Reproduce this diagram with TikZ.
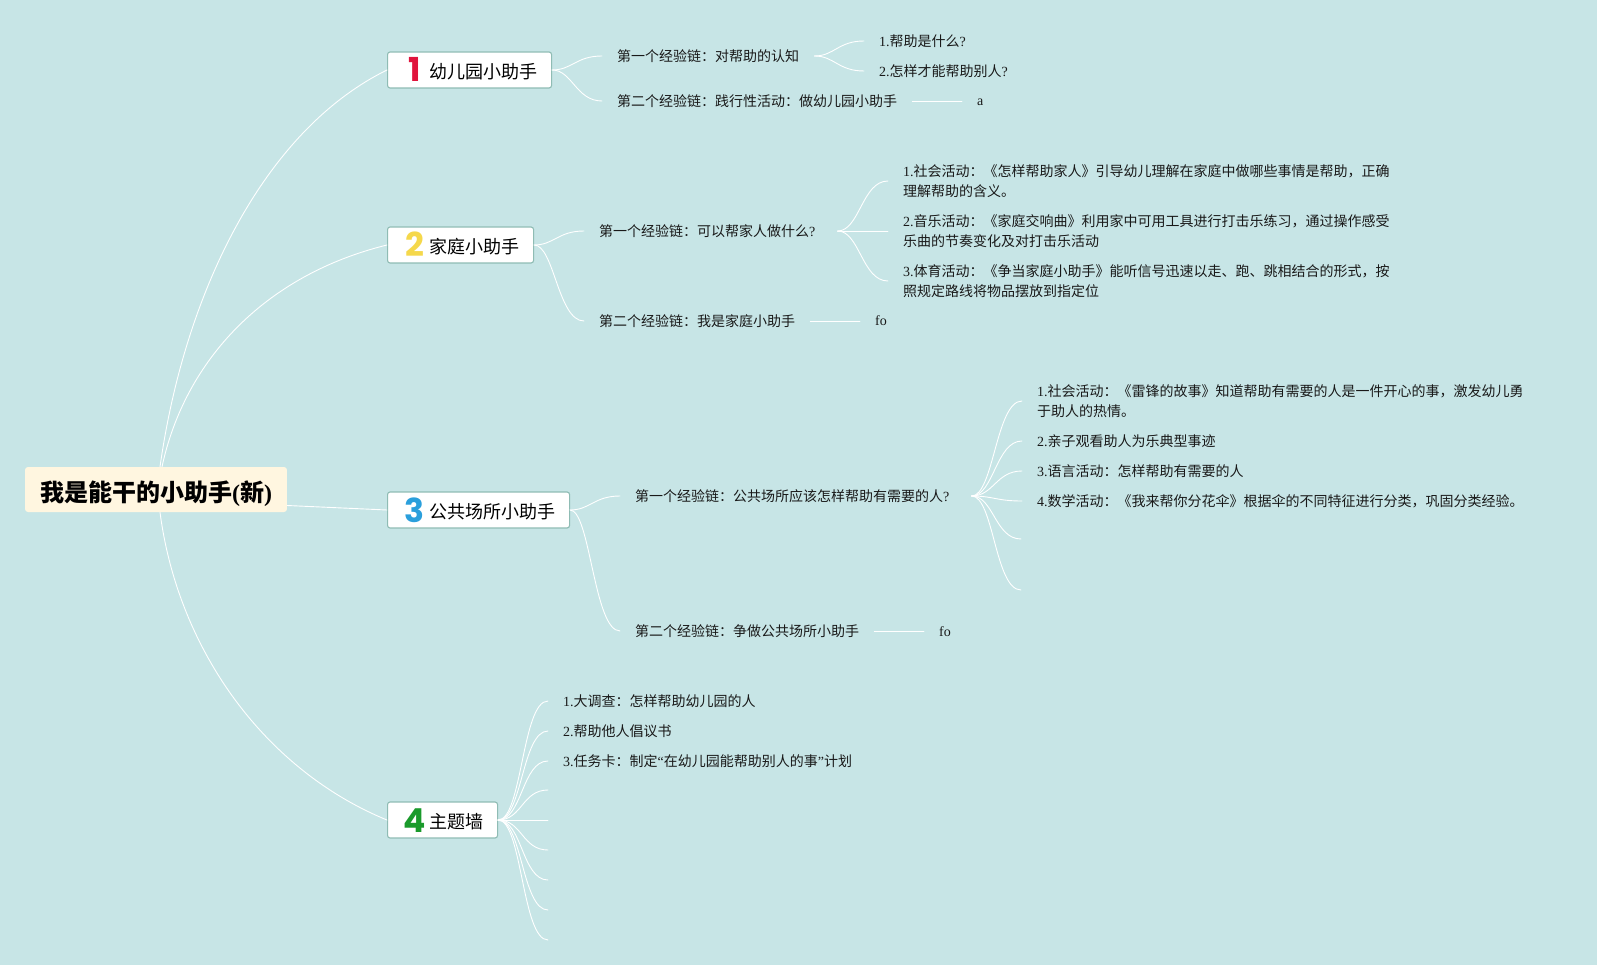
\documentclass[tikz,border=0pt]{standalone}
\usepackage{xcolor}
\usepackage{fontspec}
\setmainfont{Noto Sans CJK SC}
\newfontfamily\lat{Liberation Serif}
\newfontfamily\numfont{Poppins}
\usetikzlibrary{calc}
\definecolor{bgcol}{HTML}{C7E5E6}
\definecolor{rootcol}{HTML}{FFF6E0}
\definecolor{edgecol}{HTML}{8FBCB4}
\definecolor{numa}{HTML}{E0143C}
\definecolor{numb}{HTML}{F5D84B}
\definecolor{numc}{HTML}{2A9FDC}
\definecolor{numd}{HTML}{1A9A2B}
\newcommand{\topicnum}[2]{\makebox[26pt][c]{\raisebox{-3.7pt}[0pt][0pt]{\numfont\bfseries\fontsize{33}{33}\selectfont\textcolor{#1}{#2}}}\hspace{2pt}}
\tikzset{
	rootbox/.style={fill=rootcol,rounded corners=3pt,minimum height=45pt,inner xsep=15pt,inner ysep=0pt,text height=23pt,text depth=0pt,font=\fontsize{24}{28}\selectfont\bfseries},
	topicbox/.style={draw=edgecol,line width=1.1pt,fill=white,rounded corners=2.5pt,anchor=west,minimum height=36pt,inner xsep=14pt,inner ysep=0pt,text height=17pt,text depth=.4pt,font=\fontsize{18}{22}\selectfont},
	leaf/.style={anchor=west,inner xsep=15pt,inner ysep=0pt,align=left,text=black!90,font=\fontsize{14}{20}\selectfont},
	short/.style={leaf,text height=12pt,text depth=2pt,font=\lat\fontsize{14}{20}\selectfont},
	branch/.style={draw=white,line width=.9pt,line cap=round},
	curl/.style={to path={.. controls +(#1,0) and +(-26,0) .. (\tikztotarget)}},
	curl/.default=20
}
\begin{document}
\begin{tikzpicture}[x=1pt,y=-1pt]
	\useasboundingbox[fill=bgcol] (0,0) rectangle (1597,965);
	\node[rootbox] (root) at (156,489.5){我是能干的小助手{\lat\bfseries(}新{\lat\bfseries)}};
	\node[topicbox] (a) at (387,70){\topicnum{numa}{1}幼儿园小助手};
	\node[topicbox] (b) at (387,245){\topicnum{numb}{2}家庭小助手};
	\node[topicbox] (c) at (387,510){\topicnum{numc}{3}公共场所小助手};
	\node[topicbox] (d) at (387,820){\topicnum{numd}{4}主题墙};

	\node[leaf] (a1) at (602,56){第一个经验链：对帮助的认知};
	\node[leaf] (a2) at (602,101){第二个经验链：践行性活动：做幼儿园小助手};
	\node[leaf] (a11) at (864,41){{\lat 1.}帮助是什么{\lat ?}};
	\node[leaf] (a12) at (864,71){{\lat 2.}怎样才能帮助别人{\lat ?}};
	\node[short] (a21) at (962,101){a};

	\node[leaf] (b1) at (584,231){第一个经验链：可以帮家人做什么{\lat ?}};
	\node[leaf] (b2) at (584,321){第二个经验链：我是家庭小助手};
	\node[leaf] (b11) at (888,181){{\lat 1.}社会活动：《怎样帮助家人》引导幼儿理解在家庭中做哪些事情是帮助，正确\\理解帮助的含义。};
	\node[leaf] (b12) at (888,231){{\lat 2.}音乐活动：《家庭交响曲》利用家中可用工具进行打击乐练习，通过操作感受\\乐曲的节奏变化及对打击乐活动};
	\node[leaf] (b13) at (888,281){{\lat 3.}体育活动：《争当家庭小助手》能听信号迅速以走、跑、跳相结合的形式，按\\照规定路线将物品摆放到指定位};
	\node[short] (b21) at (860,321){fo};
	\coordinate (bfan) at ($(b1.east)+(7,0)$);

	\node[leaf] (c1) at (620,496){第一个经验链：公共场所应该怎样帮助有需要的人{\lat ?}};
	\node[leaf] (c2) at (620,631){第二个经验链：争做公共场所小助手};
	\node[leaf] (c11) at (1022,401){{\lat 1.}社会活动：《雷锋的故事》知道帮助有需要的人是一件开心的事，激发幼儿勇\\于助人的热情。};
	\node[leaf] (c12) at (1022,441){{\lat 2.}亲子观看助人为乐典型事迹};
	\node[leaf] (c13) at (1022,471){{\lat 3.}语言活动：怎样帮助有需要的人};
	\node[leaf] (c14) at (1022,501){{\lat 4.}数学活动：《我来帮你分花伞》根据伞的不同特征进行分类，巩固分类经验。};
	\coordinate (c15) at (1021,539);
	\coordinate (c16) at (1021,590);
	\node[short] (c21) at (924,631){fo};
	\coordinate (cfan) at ($(c1.east)+(7,0)$);

	\node[leaf] (d1) at (548,701){{\lat 1.}大调查：怎样帮助幼儿园的人};
	\node[leaf] (d2) at (548,731){{\lat 2.}帮助他人倡议书};
	\node[leaf] (d3) at (548,761){{\lat 3.}任务卡：制定{\lat “}在幼儿园能帮助别人的事{\lat ”}计划};
	\coordinate (d4) at (548,790);
	\coordinate (d5) at (548,820);
	\coordinate (d6) at (548,850);
	\coordinate (d7) at (548,880);
	\coordinate (d8) at (548,910);
	\coordinate (d9) at (548,940);

	\begin{scope}[branch]
		\draw ([xshift=4pt]root.north) .. controls (185,290) and (265,130) .. (a.west);
		\draw ([xshift=6pt]root.north) .. controls (185,360) and (265,275) .. (b.west);
		\draw ([yshift=-16pt]root.east) -- (c.west);
		\draw ([xshift=4pt]root.south) .. controls (178,650) and (265,770) .. (d.west);

		\draw (a.east) to[curl] (a1.west);
		\draw (a.east) to[curl] (a2.west);
		\draw (a1.east) to[curl] (a11.west);
		\draw (a1.east) to[curl] (a12.west);
		\draw (a2.east) -- (a21.west);

		\draw (b.east) to[curl] (b1.west);
		\draw (b.east) to[curl] (b2.west);
		\draw (bfan) to[curl=22] (b11.west);
		\draw (bfan) -- (b12.west);
		\draw (bfan) to[curl=22] (b13.west);
		\draw (b2.east) -- (b21.west);

		\draw (c.east) to[curl] (c1.west);
		\draw (c.east) to[curl] (c2.west);
		\draw (cfan) to[curl=22] (c11.west);
		\draw (cfan) to[curl=22] (c12.west);
		\draw (cfan) to[curl=22] (c13.west);
		\draw (cfan) to[curl=22] (c14.west);
		\draw (cfan) to[curl=22] (c15);
		\draw (cfan) to[curl=22] (c16);
		\draw (c2.east) -- (c21.west);

		\draw (d.east) to[curl=24] (d1.west);
		\draw (d.east) to[curl=24] (d2.west);
		\draw (d.east) to[curl=24] (d3.west);
		\draw (d.east) to[curl=24] (d4);
		\draw (d.east) -- (d5);
		\draw (d.east) to[curl=24] (d6);
		\draw (d.east) to[curl=24] (d7);
		\draw (d.east) to[curl=24] (d8);
		\draw (d.east) to[curl=24] (d9);
	\end{scope}
\end{tikzpicture}
\end{document}
